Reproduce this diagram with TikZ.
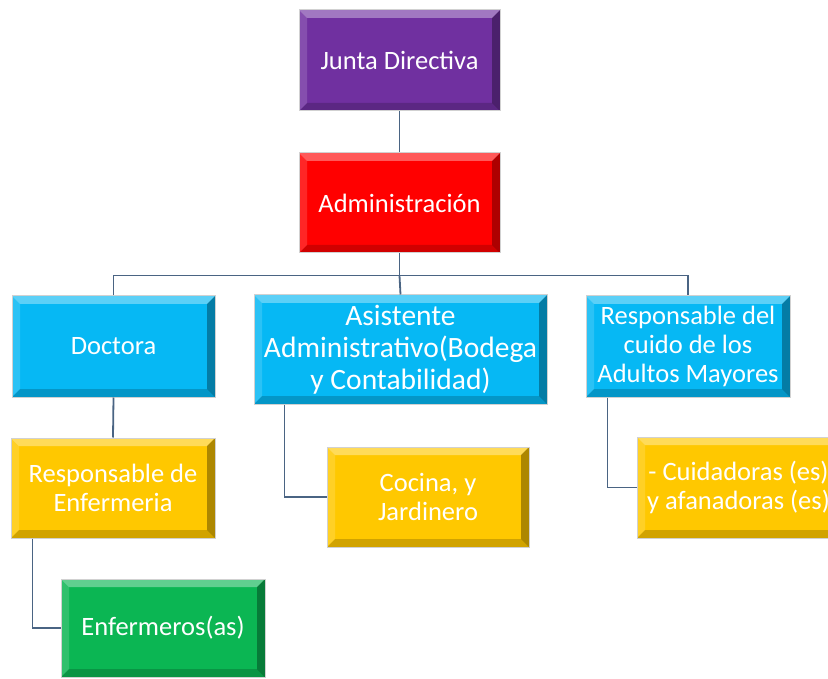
\documentclass[tikz,border=0pt]{standalone}
\usepackage{fontspec}
\setmainfont{Carlito}
\usetikzlibrary{calc}
\definecolor{cpurple}{HTML}{7030A0}
\definecolor{cred}{HTML}{FF0000}
\definecolor{ccyan}{HTML}{06B8F4}
\definecolor{cgold}{HTML}{FFC800}
\definecolor{cgreen}{HTML}{0BB653}
\definecolor{cline}{HTML}{4A6483}
\tikzset{
  box/.style={rectangle, draw=black!18, line width=1pt, text=white, align=center,
    inner sep=0pt, font=\fontsize{26.5}{29}\selectfont,
    path picture={
      \fill[white,opacity=.35] (path picture bounding box.north west) -- (path picture bounding box.north east)
        -- ([shift={(-8pt,-8pt)}]path picture bounding box.north east) -- ([shift={(8pt,-8pt)}]path picture bounding box.north west) -- cycle;
      \fill[white,opacity=.15] (path picture bounding box.north west) -- ([shift={(8pt,-8pt)}]path picture bounding box.north west)
        -- ([shift={(8pt,8pt)}]path picture bounding box.south west) -- (path picture bounding box.south west) -- cycle;
      \fill[black,opacity=.18] (path picture bounding box.south west) -- (path picture bounding box.south east)
        -- ([shift={(-8pt,8pt)}]path picture bounding box.south east) -- ([shift={(8pt,8pt)}]path picture bounding box.south west) -- cycle;
      \fill[black,opacity=.32] (path picture bounding box.north east) -- (path picture bounding box.south east)
        -- ([shift={(-8pt,8pt)}]path picture bounding box.south east) -- ([shift={(-8pt,-8pt)}]path picture bounding box.north east) -- cycle;
    }},
  conn/.style={draw=cline, line width=1.8pt}
}
\begin{document}
\begin{tikzpicture}[x=1pt,y=-1pt]
\clip (0,0) rectangle (828,679);
\fill[white] (0,0) rectangle (828,679);

\node[box, fill=cpurple, minimum width=201pt, minimum height=101pt] (jd) at (399.5,60.5) {Junta Directiva};
\node[box, fill=cred, minimum width=201pt, minimum height=100pt] (adm) at (399.5,203) {Administración};
\node[box, fill=ccyan, minimum width=203pt, minimum height=101pt] (doc) at (113.5,346.5) {Doctora};
\node[box, fill=ccyan, minimum width=293pt, minimum height=109pt, font=\fontsize{29.5}{32}\selectfont] (asi) at (400.5,349.5) {Asistente\\Administrativo(Bodega\\y Contabilidad)};
\node[box, fill=ccyan, minimum width=204pt, minimum height=101pt] (rcu) at (688,346.5) {Responsable del\\cuido de los\\Adultos Mayores};
\node[box, fill=cgold, minimum width=204pt, minimum height=100pt] (ren) at (113,488) {Responsable de\\Enfermeria};
\node[box, fill=cgreen, minimum width=204pt, minimum height=98pt] (enf) at (163,628) {Enfermeros(as)};
\node[box, fill=cgold, minimum width=202pt, minimum height=100pt] (coc) at (428,497) {Cocina, y\\Jardinero};
\node[box, fill=cgold, minimum width=203pt, minimum height=101pt] (cui) at (738.5,487.5) {- Cuidadoras (es)\\y afanadoras (es)};

\coordinate (bus) at ($(adm.south)+(0,22)$);
\draw[conn] (jd.south) -- (adm.north);
\draw[conn] (adm.south) -- (bus);
\draw[conn] (doc.north) |- (bus) -| (rcu.north);
\draw[conn] (bus) -- (asi.north);
\draw[conn] (doc.south) -- (ren.north);
\draw[conn] ($(ren.south west)+(22,0)$) |- (enf.west);
\draw[conn] ($(asi.south west)+(31,0)$) |- (coc.west);
\draw[conn] ($(rcu.south west)+(22,0)$) |- (cui.west);
\end{tikzpicture}
\end{document}
